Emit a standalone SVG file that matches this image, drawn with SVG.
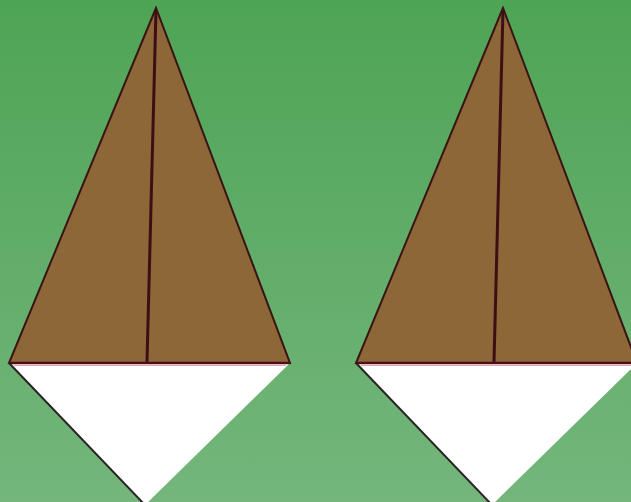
<svg xmlns="http://www.w3.org/2000/svg" width="631" height="502" viewBox="0 0 631 502">
<defs>
<linearGradient id="bg" x1="0" y1="0" x2="0" y2="1">
<stop offset="0" stop-color="#4ea455"/>
<stop offset="1" stop-color="#74b67c"/>
</linearGradient>
<style>
.brown{fill:#8d6738;stroke:#3a1414;stroke-width:2;stroke-linejoin:miter}
.white{fill:#ffffff;stroke:none}
.edge{stroke:#2a2424;stroke-width:2;fill:none}
.fold{stroke:#3d0f14;stroke-width:3;fill:none}
.base{stroke:#4a1018;stroke-width:2.5;fill:none}
.pink{stroke:#f0a0b0;stroke-width:1;fill:none}
</style>
</defs>
<rect width="631" height="502" fill="url(#bg)"/>
<g id="kite-left">
<polygon class="white" points="9,363 290,363 145,505"/>
<line class="edge" x1="9" y1="363" x2="145" y2="505"/>
<polygon class="brown" points="156,8 9,363 290,363"/>
<line class="fold" x1="156" y1="10" x2="147" y2="362"/>
<line class="base" x1="9" y1="363" x2="290" y2="363"/>
<line class="pink" x1="14" y1="365.5" x2="286" y2="365.5"/>
</g>
<g id="kite-right">
<polygon class="white" points="356,363 637,363 492,505"/>
<line class="edge" x1="356" y1="363" x2="492" y2="505"/>
<polygon class="brown" points="503,8 356,363 637,363"/>
<line class="fold" x1="503" y1="10" x2="494" y2="362"/>
<line class="base" x1="356" y1="363" x2="637" y2="363"/>
<line class="pink" x1="361" y1="365.5" x2="633" y2="365.5"/>
</g>
</svg>
